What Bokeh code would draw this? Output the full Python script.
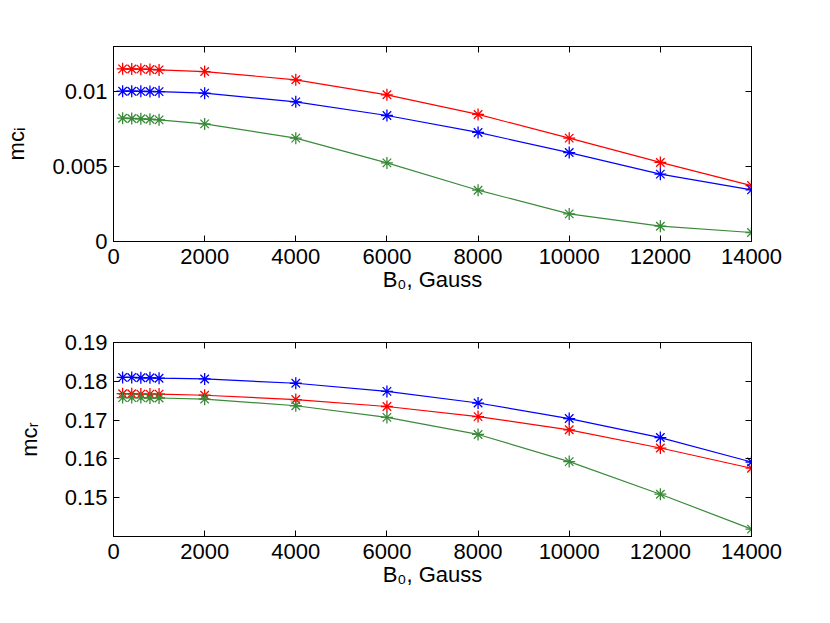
from bokeh.plotting import figure
from bokeh.layouts import column
from bokeh.models import LinearAxis, FixedTicker, Range1d
from bokeh.embed import file_html
from bokeh.resources import INLINE

# ---- data ----
B0 = [200, 400, 600, 800, 1000, 2000, 4000, 6000, 8000, 10000, 12000, 14000]

mci_red = [0.01151, 0.01150, 0.01149, 0.01147, 0.01144, 0.01133, 0.01078, 0.00978, 0.00847, 0.00689, 0.00527, 0.00373]
mci_blue = [0.01002, 0.01002, 0.01001, 0.01000, 0.00999, 0.00989, 0.00931, 0.00840, 0.00727, 0.00593, 0.00449, 0.00344]
mci_green = [0.00822, 0.00820, 0.00818, 0.00815, 0.00811, 0.00784, 0.00689, 0.00524, 0.00342, 0.00184, 0.00102, 0.00060]

mcr_blue = [0.1810, 0.1810, 0.1809, 0.1809, 0.1808, 0.1806, 0.1795, 0.1774, 0.1744, 0.1704, 0.1655, 0.1592]
mcr_red = [0.1768, 0.1768, 0.1767, 0.1767, 0.1767, 0.1764, 0.1753, 0.1735, 0.1709, 0.1675, 0.1628, 0.1576]
mcr_green = [0.1758, 0.1758, 0.1758, 0.1757, 0.1757, 0.1754, 0.1737, 0.1707, 0.1663, 0.1593, 0.1509, 0.1419]

x_ticks = [0, 2000, 4000, 6000, 8000, 10000, 12000, 14000]
top_y_ticks = [0, 0.005, 0.01]
top_y_labels = {0: "0", 0.005: "0.005", 0.01: "0.01"}
bot_y_ticks = [0.15, 0.16, 0.17, 0.18, 0.19]
bot_y_labels = {0.15: "0.15", 0.16: "0.16", 0.17: "0.17", 0.18: "0.18", 0.19: "0.19"}

x_label = "B₀, Gauss"
top_y_label = "mcᵢ"
bot_y_label = "mcᵣ"

RED = "#FF0000"
BLUE = "#0000FF"
GREEN = "#3A8A3A"
FONT = "Liberation Sans"
FS = "22px"


def style_axis(ax, ticks, show_labels, overrides=None):
    ax.ticker = FixedTicker(ticks=ticks)
    ax.major_tick_in = 6
    ax.major_tick_out = 0
    ax.minor_tick_in = 0
    ax.minor_tick_out = 0
    ax.axis_line_color = "black"
    ax.major_tick_line_color = "black"
    ax.major_label_text_font = FONT
    ax.major_label_text_font_size = FS
    ax.major_label_text_color = "black"
    ax.axis_label_text_font = FONT
    ax.axis_label_text_font_size = FS
    ax.axis_label_text_font_style = "normal"
    ax.axis_label_text_color = "black"
    if overrides:
        ax.major_label_overrides = overrides
    if not show_labels:
        ax.major_label_text_font_size = "0px"
        ax.major_label_text_alpha = 0
        ax.major_label_standoff = 0


def make_fig(yr, yticks, ylabels, ylabel, border_top, fh, border_bottom):
    p = figure(frame_width=638, frame_height=fh,
               x_range=Range1d(0, 14000), y_range=Range1d(*yr),
               min_border_left=113, min_border_right=71,
               min_border_top=border_top, min_border_bottom=border_bottom,
               output_backend="svg", toolbar_location=None)
    p.grid.visible = False
    p.outline_line_color = "black"
    p.background_fill_color = "white"
    p.border_fill_color = "white"
    style_axis(p.xaxis[0], x_ticks, True)
    p.xaxis[0].major_label_standoff = 7
    p.xaxis[0].axis_label = x_label
    p.xaxis[0].axis_label_standoff = 0
    style_axis(p.yaxis[0], yticks, True, ylabels)
    p.yaxis[0].major_label_standoff = 6
    p.yaxis[0].axis_label = ylabel
    p.yaxis[0].axis_label_standoff = 20
    top = LinearAxis()
    style_axis(top, x_ticks, False)
    p.add_layout(top, "above")
    right = LinearAxis()
    style_axis(right, yticks, False)
    p.add_layout(right, "right")
    return p


def add_series(p, y, color):
    p.line(B0, y, line_color=color, line_width=1.2)
    p.scatter(B0, y, marker="asterisk", size=12, line_color=color, line_width=1.3)


# ---- top: mc_i ----
p1 = make_fig((0, 0.013), top_y_ticks, top_y_labels, top_y_label, 46, 195, 63)
add_series(p1, mci_red, RED)
add_series(p1, mci_blue, BLUE)
add_series(p1, mci_green, GREEN)

# ---- bottom: mc_r ----
p2 = make_fig((0.14, 0.19), bot_y_ticks, bot_y_labels, bot_y_label, 38, 194, 72)
add_series(p2, mcr_red, RED)
add_series(p2, mcr_blue, BLUE)
add_series(p2, mcr_green, GREEN)

layout = column(p1, p2, spacing=0)
open("out.html", "w").write(file_html(layout, INLINE))
